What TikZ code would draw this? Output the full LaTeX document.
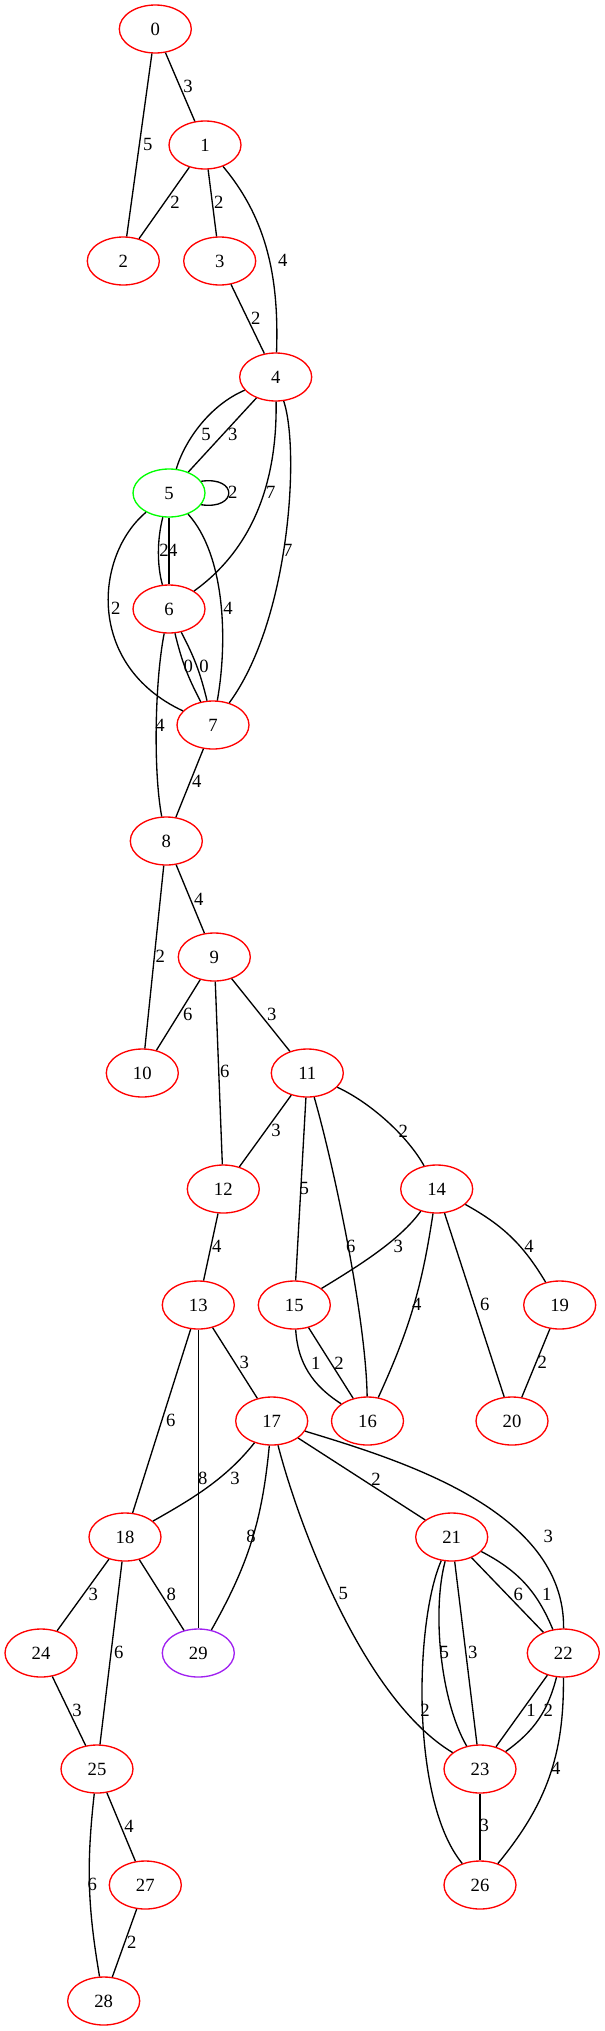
\documentclass[tikz,border=0pt]{standalone}
\usepackage{fontspec}
\setmainfont{Liberation Serif}
\usetikzlibrary{shapes.geometric}
\definecolor{gvgreen}{HTML}{00FF00}
\definecolor{gvpurple}{HTML}{A020F0}
\begin{document}
\begin{tikzpicture}[x=0.75pt,y=-0.75pt,
 vtx/.style={ellipse,draw=red,line width=1pt,minimum width=54pt,minimum height=36pt,inner sep=0pt,font=\fontsize{14}{16}\selectfont},
 lbl/.style={inner sep=0pt,font=\fontsize{14}{16}\selectfont},
 con/.style={draw=black,line width=1pt}]
\useasboundingbox (0,0) rectangle (605,2031);
% nodes
\node[vtx] (n0) at (155.3,29) {0};
\node[vtx] (n1) at (205,145) {1};
\node[vtx] (n2) at (123.3,261) {2};
\node[vtx] (n3) at (219.7,261) {3};
\node[vtx] (n4) at (275.7,377) {4};
\node[vtx,draw=gvgreen] (n5) at (169,493) {5};
\node[vtx] (n6) at (169,609) {6};
\node[vtx] (n7) at (213,725) {7};
\node[vtx] (n8) at (166.3,841) {8};
\node[vtx] (n9) at (214.3,957) {9};
\node[vtx] (n10) at (142.3,1073) {10};
\node[vtx] (n11) at (307.3,1073) {11};
\node[vtx] (n12) at (223.3,1189) {12};
\node[vtx] (n13) at (198.3,1305) {13};
\node[vtx] (n14) at (436.7,1189) {14};
\node[vtx] (n15) at (294.3,1305) {15};
\node[vtx] (n16) at (367.5,1421) {16};
\node[vtx] (n17) at (271.7,1421) {17};
\node[vtx] (n18) at (125,1537) {18};
\node[vtx] (n19) at (559.7,1305) {19};
\node[vtx] (n20) at (512,1421) {20};
\node[vtx] (n21) at (451.7,1537) {21};
\node[vtx] (n22) at (563.3,1653) {22};
\node[vtx] (n23) at (480,1769) {23};
\node[vtx] (n24) at (41,1653) {24};
\node[vtx] (n25) at (97,1769) {25};
\node[vtx] (n26) at (480,1885) {26};
\node[vtx] (n27) at (145.3,1885) {27};
\node[vtx] (n28) at (103.7,2001) {28};
\node[vtx,draw=gvpurple] (n29) at (198.3,1653) {29};
% edges
\draw[con] (n0) -- (n1);
\draw[con] (n0) -- (n2);
\draw[con] (n1) -- (n2);
\draw[con] (n1) -- (n3);
\draw[con] (n1) .. controls (268,220) and (279,280) .. (n4);
\draw[con] (n3) -- (n4);
\draw[con] (n4) .. controls (210,405) and (185,440) .. (n5);
\draw[con] (n4) -- (n5);
\draw[con] (n5.20) .. controls (238,476) and (238,510) .. (n5.-20);
\draw[con] (n4) .. controls (277,460) and (265,540) .. (n6);
\draw[con] (n4) .. controls (300,450) and (290,620) .. (n7);
\draw[con] (n5) .. controls (157,540) and (157,565) .. (n6);
\draw[con] (n5) -- (n6);
\draw[con] (n5) .. controls (95,555) and (85,665) .. (n7);
\draw[con] (n5) .. controls (225,555) and (228,640) .. (n7);
\draw[con] (n6) to[bend right=7] (n7);
\draw[con] (n6) to[bend left=7] (n7);
\draw[con] (n6) .. controls (155,680) and (153,770) .. (n8);
\draw[con] (n7) -- (n8);
\draw[con] (n8) -- (n9);
\draw[con] (n8) -- (n10);
\draw[con] (n9) -- (n10);
\draw[con] (n9) -- (n11);
\draw[con] (n9) -- (n12);
\draw[con] (n11) -- (n12);
\draw[con] (n11) .. controls (375,1105) and (410,1140) .. (n14);
\draw[con] (n11) -- (n15);
\draw[con] (n11) .. controls (335,1170) and (366,1320) .. (n16);
\draw[con] (n12) -- (n13);
\draw[con] (n14) .. controls (400,1240) and (360,1265) .. (n15);
\draw[con] (n14) to[bend left=8] (n16);
\draw[con] (n14) to[bend left=15] (n19);
\draw[con] (n14) -- (n20);
\draw[con] (n19) -- (n20);
\draw[con] (n15) .. controls (298,1370) and (320,1390) .. (n16);
\draw[con] (n15) -- (n16);
\draw[con] (n13) -- (n17);
\draw[con] (n13) -- (n18);
\draw[con] (n13) -- (n29);
\draw[con] (n17) .. controls (225,1480) and (190,1500) .. (n18);
\draw[con] (n17) to[bend left=12] (n29);
\draw[con] (n17) -- (n21);
\draw[con] (n17) .. controls (400,1460) and (565,1510) .. (n22);
\draw[con] (n17) .. controls (300,1530) and (365,1700) .. (n23);
\draw[con] (n18) -- (n24);
\draw[con] (n18) -- (n25);
\draw[con] (n18) -- (n29);
\draw[con] (n24) -- (n25);
\draw[con] (n21) -- (n22);
\draw[con] (n21) to[bend left=20] (n22);
\draw[con] (n21) .. controls (432,1610) and (440,1700) .. (n23);
\draw[con] (n21) -- (n23);
\draw[con] (n21) .. controls (415,1620) and (410,1800) .. (n26);
\draw[con] (n22) -- (n23);
\draw[con] (n22) to[bend left=20] (n23);
\draw[con] (n22) to[bend left=20] (n26);
\draw[con] (n23) -- (n26);
\draw[con] (n25) -- (n27);
\draw[con] (n25) to[bend right=8] (n28);
\draw[con] (n27) -- (n28);
% edge labels
\node[lbl] (l01) at (188,86) {3};
\node[lbl] (l02) at (147.7,144) {5};
\node[lbl] (l12) at (175,202) {2};
\node[lbl] (l13) at (218.7,202) {2};
\node[lbl] (l14) at (282.7,260) {4};
\node[lbl] (l34) at (255.7,318) {2};
\node[lbl] (l45a) at (206,434) {5};
\node[lbl] (l45b) at (232.7,434) {3};
\node[lbl] (l55) at (232.7,492.7) {2};
\node[lbl] (l46) at (270.7,492.7) {7};
\node[lbl] (l47) at (287.7,550) {7};
\node[lbl] (l56a) at (164,550.7) {2};
\node[lbl] (l56b) at (172.7,550.7) {4};
\node[lbl] (l57a) at (115.7,608.7) {2};
\node[lbl] (l57b) at (228,608.7) {4};
\node[lbl] (l67a) at (188.3,666) {0};
\node[lbl] (l67b) at (204,666) {0};
\node[lbl] (l68) at (160,725) {4};
\node[lbl] (l78) at (196.7,781.7) {4};
\node[lbl] (l89) at (198.7,899) {4};
\node[lbl] (l810) at (160.3,956.7) {2};
\node[lbl] (l910) at (187.7,1014.3) {6};
\node[lbl] (l911) at (271.7,1014.3) {3};
\node[lbl] (l912) at (224.7,1071.7) {6};
\node[lbl] (l1112) at (276,1130.7) {3};
\node[lbl] (l1114) at (403.3,1131.7) {2};
\node[lbl] (l1115) at (304.3,1188.3) {5};
\node[lbl] (l1116) at (350.7,1246.7) {6};
\node[lbl] (l1213) at (216.7,1246.7) {4};
\node[lbl] (l1415) at (398.3,1246.7) {3};
\node[lbl] (l1416) at (416.7,1304.7) {4};
\node[lbl] (l1419) at (529,1246.7) {4};
\node[lbl] (l1420) at (484.7,1304.7) {6};
\node[lbl] (l1920) at (542.3,1362.3) {2};
\node[lbl] (l1516a) at (315.7,1363.3) {1};
\node[lbl] (l1516b) at (339,1363.3) {2};
\node[lbl] (l1317) at (244.3,1362.3) {3};
\node[lbl] (l1318) at (170.7,1420.7) {6};
\node[lbl] (l1329) at (202.7,1478.3) {8};
\node[lbl] (l1718) at (235,1478.3) {3};
\node[lbl] (l1729) at (251,1536) {8};
\node[lbl] (l1721) at (376,1479.3) {2};
\node[lbl] (l1722) at (548.3,1536.7) {3};
\node[lbl] (l1723) at (343.3,1593.3) {5};
\node[lbl] (l1824) at (93.3,1594.3) {3};
\node[lbl] (l1825) at (118.7,1652.7) {6};
\node[lbl] (l1829) at (171.3,1594.3) {8};
\node[lbl] (l2425) at (77,1710) {3};
\node[lbl] (l2122a) at (518.3,1594.3) {6};
\node[lbl] (l2122b) at (546.7,1594.3) {1};
\node[lbl] (l2123a) at (444.3,1652.7) {5};
\node[lbl] (l2123b) at (472.7,1652.7) {3};
\node[lbl] (l2126) at (425,1710.7) {2};
\node[lbl] (l2223a) at (531,1710.7) {1};
\node[lbl] (l2223b) at (548.3,1710.7) {2};
\node[lbl] (l2226) at (555.7,1768.3) {4};
\node[lbl] (l2326) at (484.3,1825.7) {3};
\node[lbl] (l2527) at (129,1826.7) {4};
\node[lbl] (l2528) at (92.3,1884.3) {6};
\node[lbl] (l2728) at (131.7,1942.7) {2};
\end{tikzpicture}
\end{document}
